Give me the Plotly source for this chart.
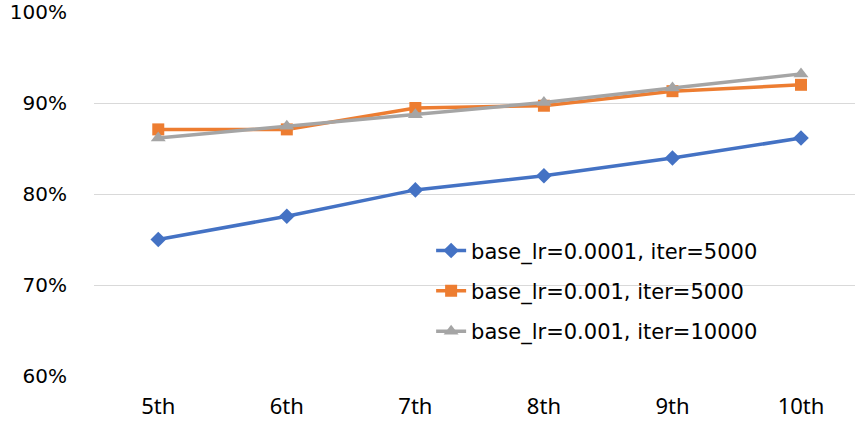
import plotly.graph_objects as go

categories = ["5th", "6th", "7th", "8th", "9th", "10th"]
series_names = ["base_lr=0.0001, iter=5000", "base_lr=0.001, iter=5000", "base_lr=0.001, iter=10000"]
blue_vals = [75.0, 77.55, 80.45, 82.0, 83.95, 86.15]
orange_vals = [87.1, 87.1, 89.45, 89.7, 91.3, 92.0]
gray_vals = [86.15, 87.45, 88.7, 90.05, 91.65, 93.2]
y_ticks = [60, 70, 80, 90, 100]
y_tick_labels = ["60%", "70%", "80%", "90%", "100%"]

colors = ["#4472C4", "#ED7D31", "#A5A5A5"]
symbols = ["diamond", "square", "triangle-up"]
sizes = [12, 12, 13]
values = [blue_vals, orange_vals, gray_vals]

fig = go.Figure()
for i, (name, vals) in enumerate(zip(series_names, values)):
    fig.add_trace(go.Scatter(
        x=list(range(len(categories))), y=vals, name=name, mode="lines+markers",
        line=dict(color=colors[i], width=3.5),
        marker=dict(symbol=symbols[i], size=sizes[i], color=colors[i]),
        legendgroup=f"g{i}",
    ))

fig.update_layout(
    width=855, height=421,
    margin=dict(l=94, r=0, t=12, b=45),
    paper_bgcolor="white", plot_bgcolor="white",
    showlegend=True,
    legend=dict(x=0.443, y=0.40, xanchor="left", yanchor="top",
                font=dict(family="DejaVu Sans", size=21, color="#000000"),
                bgcolor="rgba(0,0,0,0)", tracegroupgap=10, itemwidth=30),
    xaxis=dict(tickmode="array", tickvals=list(range(len(categories))), ticktext=categories,
               range=[-0.5, 5.42], showgrid=False, zeroline=False, showline=False,
               ticks="", tickfont=dict(family="Noto Sans", size=22, color="#000000"),
               ticklabelstandoff=15),
    yaxis=dict(range=[60, 100], tickmode="array", tickvals=y_ticks, ticktext=y_tick_labels,
               showgrid=True, gridcolor="#D9D9D9", gridwidth=1, zeroline=False, showline=False,
               ticks="", tickfont=dict(family="DejaVu Sans", size=20, color="#000000"),
               ticklabelstandoff=26),
)

fig.write_html("out.html", config={"displayModeBar": False},
               post_script="document.body.style.margin='0';")
